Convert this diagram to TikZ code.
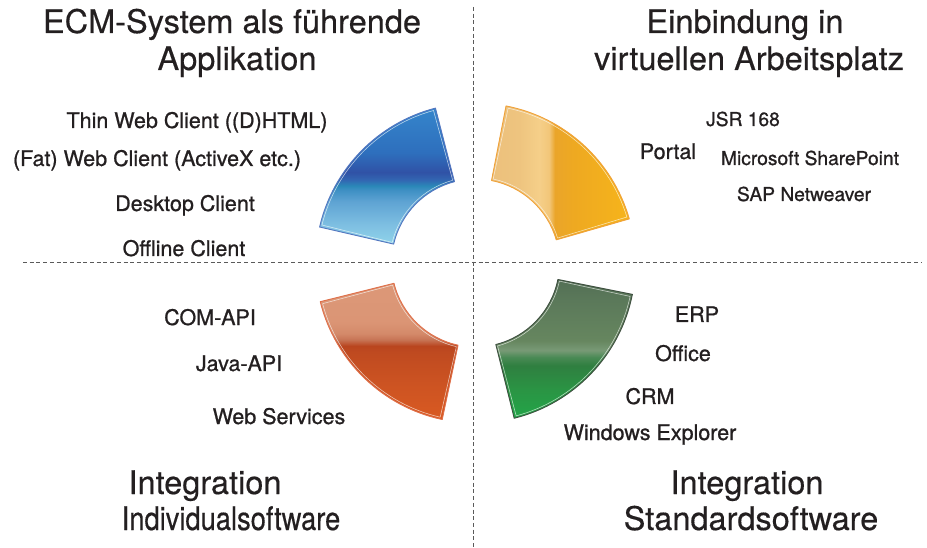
\documentclass[tikz,border=0pt]{standalone}
\usepackage{fontspec}
\setmainfont{TeX Gyre Heros}
\newfontfamily\lblfont{TeX Gyre Heros}[FakeBold=0.9]
\newfontfamily\ttlfont{TeX Gyre Heros}[FakeBold=0.4]
\definecolor{txt}{HTML}{231F20}
\definecolor{dashgray}{HTML}{5A5A5A}
% blue
\definecolor{bA}{HTML}{8FD3EA}\definecolor{bB}{HTML}{7FC0E2}\definecolor{bC}{HTML}{5EA3D3}
\definecolor{bD}{HTML}{3D8FC3}\definecolor{bE}{HTML}{2A88B8}\definecolor{bF}{HTML}{3266B2}
\definecolor{bG}{HTML}{3052A6}\definecolor{bH}{HTML}{2E6FBD}\definecolor{bI}{HTML}{3585CB}
\definecolor{bEdge}{HTML}{5577C0}
% orange
\definecolor{oA}{HTML}{ECC07C}\definecolor{oB}{HTML}{EEC47F}\definecolor{oC}{HTML}{F5CF89}
\definecolor{oD}{HTML}{F2C679}\definecolor{oE}{HTML}{EAA52A}\definecolor{oF}{HTML}{EEA921}
\definecolor{oG}{HTML}{F6B41B}\definecolor{oEdge}{HTML}{F0A23A}
% red
\definecolor{rA}{HTML}{D95A22}\definecolor{rB}{HTML}{CC5322}\definecolor{rC}{HTML}{BF4A20}
\definecolor{rD}{HTML}{B9451F}\definecolor{rE}{HTML}{C77455}\definecolor{rF}{HTML}{D48A6A}
\definecolor{rG}{HTML}{DB9575}\definecolor{rH}{HTML}{DC9878}\definecolor{rEdge}{HTML}{E0704A}
% green
\definecolor{gA}{HTML}{22A548}\definecolor{gB}{HTML}{2A9544}\definecolor{gC}{HTML}{2F7F40}
\definecolor{gD}{HTML}{4A8A55}\definecolor{gE}{HTML}{789A76}\definecolor{gF}{HTML}{66865F}
\definecolor{gG}{HTML}{5B795A}\definecolor{gH}{HTML}{536F55}\definecolor{gEdge}{HTML}{3F4F40}
\pgfdeclareverticalshading{blueshade}{100bp}{color(0bp)=(bA); color(25bp)=(bA); color(31.8bp)=(bB); color(40.7bp)=(bC); color(45bp)=(bD); color(46.4bp)=(bE); color(48.6bp)=(bF); color(51.4bp)=(bG); color(58.6bp)=(bH); color(75bp)=(bI); color(100bp)=(bI)}
\pgfdeclarehorizontalshading{orangeshade}{100bp}{color(0bp)=(oA); color(25bp)=(oA); color(35bp)=(oB); color(42.3bp)=(oC); color(45.9bp)=(oD); color(48bp)=(oE); color(55bp)=(oF); color(75bp)=(oG); color(100bp)=(oG)}
\pgfdeclareverticalshading{redshade}{100bp}{color(0bp)=(rA); color(25bp)=(rA); color(38.5bp)=(rB); color(49.8bp)=(rC); color(52bp)=(rD); color(54.3bp)=(rE); color(56.6bp)=(rF); color(61bp)=(rG); color(75bp)=(rH); color(100bp)=(rH)}
\pgfdeclareverticalshading{greenshade}{100bp}{color(0bp)=(gA); color(25bp)=(gA); color(35bp)=(gB); color(44bp)=(gC); color(47bp)=(gD); color(49.5bp)=(gE); color(53bp)=(gF); color(67.4bp)=(gG); color(75bp)=(gH); color(100bp)=(gH)}
\begin{document}
\begin{tikzpicture}[x=1pt,y=1pt,
  title/.style={font=\ttlfont\fontsize{32.5}{36}\selectfont, text=txt, inner sep=0pt, anchor=base},
  lbl/.style={font=\lblfont\fontsize{21.5}{24}\selectfont, text=txt, inner sep=0pt, anchor=base},
  sublbl/.style={lbl, font=\lblfont\fontsize{19.2}{22}\selectfont},
  divider/.style={draw=dashgray, line width=1pt, dash pattern=on 4pt off 2.7pt},
  sec/.style n args={4}{insert path={([shift={(475.5,284)}]#1:#3) arc[start angle=#1,end angle=#2,radius=#3] -- ([shift={(475.5,284)}]#2:#4) arc[start angle=#2,end angle=#1,radius=#4] -- cycle}},
  segedge/.style={line width=0.9pt, line join=round},
  shine/.style={draw=white, draw opacity=0.65, line width=0.6pt, line join=round}]
\useasboundingbox (0,0) rectangle (927,547);
% dividers
\coordinate (vtop) at (473.5,540);
\coordinate (vbot) at (473.5,0);
\coordinate (hleft) at (23,284);
\coordinate (hright) at (922,284);
\draw[divider] (vtop) -- (vbot);
\draw[divider] (hleft) -- (hright);
% segments
\shadedraw[shading=blueshade, draw=bEdge, segedge, sec={104.5}{167}{160}{84}];
\draw[shine, sec={105.4}{166.1}{158.2}{85.8}];
\shadedraw[shading=orangeshade, draw=oEdge, segedge, sec={16}{79}{160}{84}];
\draw[shine, sec={16.9}{78.1}{158.2}{85.8}];
\shadedraw[shading=redshade, draw=rEdge, segedge, sec={194}{258}{160}{84}];
\draw[shine, sec={194.9}{257.1}{158.2}{85.8}];
\shadedraw[shading=greenshade, draw=gEdge, segedge, sec={284}{348.7}{160}{84}];
\draw[shine, sec={284.9}{347.8}{158.2}{85.8}];
% titles
\node[title] (t1a) at (232,514) {ECM-System als führende};
\node[title] (t1b) at (237,477) {Applikation};
\node[title] (t2a) at (745,514) {Einbindung in};
\node[title] (t2b) at (749,477) {virtuellen Arbeitsplatz};
\node[title] (t3a) at (205,53) {Integration};
\node[title] (t3b) at (231,17) {\scalebox{0.84}[1]{Individualsoftware}};
\node[title] (t4a) at (747,53) {Integration};
\node[title] (t4b) at (751,17) {Standardsoftware};
% labels top-left
\node[lbl] (thin) at (197,419) {Thin Web Client ((D)HTML)};
\node[lbl] (fat) at (157,381) {(Fat) Web Client (ActiveX etc.)};
\node[lbl] (desk) at (185,336) {Desktop Client};
\node[lbl] (off) at (184,291) {Offline Client};
% labels top-right
\node[sublbl] (jsr) at (743,421) {JSR 168};
\node[lbl] (portal) at (668,388) {Portal};
\node[sublbl] (msp) at (810,382) {Microsoft SharePoint};
\node[sublbl] (sap) at (804,346) {SAP Netweaver};
% labels bottom-left
\node[lbl] (com) at (210,222) {COM-API};
\node[lbl] (java) at (239,176) {Java-API};
\node[lbl] (ws) at (279,123) {Web Services};
% labels bottom-right
\node[lbl] (erp) at (697,225) {ERP};
\node[lbl] (office) at (683,186) {Office};
\node[lbl] (crm) at (650,143) {CRM};
\node[lbl] (win) at (650,107) {Windows Explorer};
\end{tikzpicture}
\end{document}
